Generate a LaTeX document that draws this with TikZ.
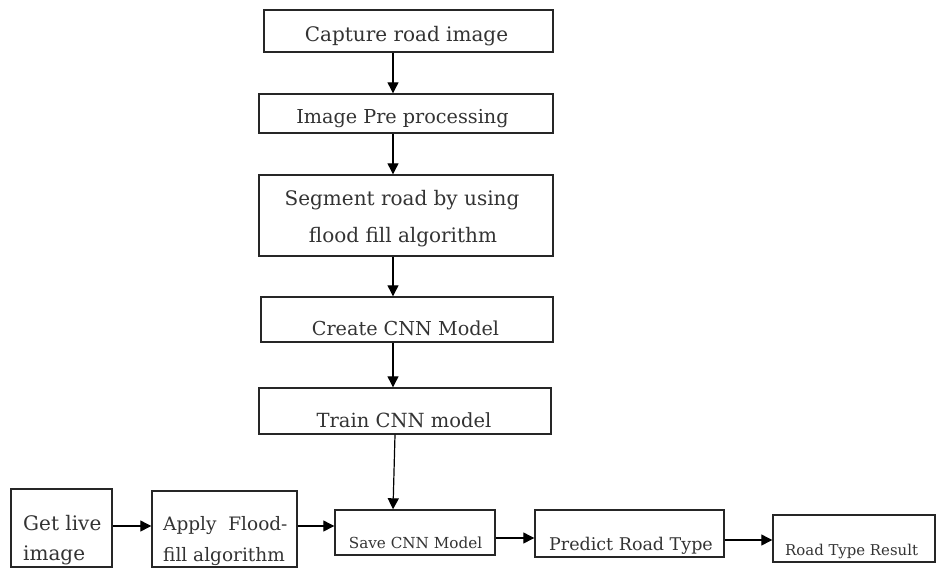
\documentclass[tikz,border=0pt]{standalone}
\usepackage{fontspec}
\setmainfont{DejaVu Serif}
\usetikzlibrary{arrows.meta}
\tikzset{
  box/.style={draw=black!85, line width=1.4pt, inner sep=0pt, anchor=center},
  txt/.style={inner sep=0pt, anchor=base, text=black!80},
  txtw/.style={txt, anchor=base west},
  arr/.style={draw=black, line width=1.2pt, -{Triangle[length=11pt,width=11pt]}},
}
\newcommand{\fs}[1]{\fontsize{#1}{#1}\selectfont}
% box from its left, top, right and bottom edges
\newcommand{\boxat}[5]{%
  \node[box, minimum width={(#4)-(#2)}, minimum height={(#5)-(#3)}]
    (#1) at ({((#2)+(#4))/2},{((#3)+(#5))/2}) {};}
\begin{document}
\begin{tikzpicture}[x=1pt, y=-1pt]
  \clip (0,0) rectangle (937,568);
  % main column
  \boxat{b1}{264}{10}{553}{52}
  \boxat{b2}{259}{94}{553}{133}
  \boxat{b3}{259}{175}{553}{256}
  \boxat{b4}{261}{297}{553}{342}
  \boxat{b5}{259}{388}{551}{434}
  % bottom row
  \boxat{g1}{11}{489}{112}{567}
  \boxat{g2}{152}{491}{297}{567}
  \boxat{g3}{335}{510}{495}{555}
  \boxat{g4}{535}{510}{724}{557}
  \boxat{g5}{773}{515}{935}{562}
  % labels
  \node[txt] (t1) at (406.5,41) {\fs{20}Capture road image};
  \node[txt] (t2) at (402.5,123) {\fs{19.2}Image Pre processing};
  \node[txt] (t3a) at (402,205) {\fs{20}Segment road by using};
  \node[txt] (t3b) at (403,242) {\fs{20}flood fill algorithm};
  \node[txt] (t4) at (405.5,335) {\fs{19.2}Create CNN Model};
  \node[txt] (t5) at (404,427) {\fs{19.5}Train CNN model};
  \node[txtw] (t6a) at (23,530) {\fs{20}Get live};
  \node[txtw] (t6b) at (23,560) {\fs{20}image};
  \node[txtw] (t7a) at (163,530) {\fs{18.5}Apply~ Flood-};
  \node[txtw] (t7b) at (163,561) {\fs{18.5}fill algorithm};
  \node[txt] (t8) at (415.5,548) {\fs{15.2}Save CNN Model};
  \node[txt] (t9) at (631,550) {\fs{17.5}Predict Road Type};
  \node[txtw] (t10) at (785,555) {\fs{14.9}Road Type Result};
  % connectors
  \coordinate (ax) at (393,0);
  \draw[arr] (b1.south -| ax) -- (b2.north -| ax);
  \draw[arr] (b2.south -| ax) -- (b3.north -| ax);
  \draw[arr] (b3.south -| ax) -- (b4.north -| ax);
  \draw[arr] (b4.south -| ax) -- (b5.north -| ax);
  \coordinate (sa) at (395,0);
  \coordinate (sb) at (393,0);
  \draw[arr] (b5.south -| sa) -- (g3.north -| sb);
  \coordinate (r1) at (0,526);
  \coordinate (r2) at (0,526);
  \coordinate (r3) at (0,538);
  \coordinate (r4) at (0,540);
  \draw[arr] (g1.east |- r1) -- (g2.west |- r1);
  \draw[arr] (g2.east |- r2) -- (g3.west |- r2);
  \draw[arr] (g3.east |- r3) -- (g4.west |- r3);
  \draw[arr] (g4.east |- r4) -- (g5.west |- r4);
\end{tikzpicture}
\end{document}
